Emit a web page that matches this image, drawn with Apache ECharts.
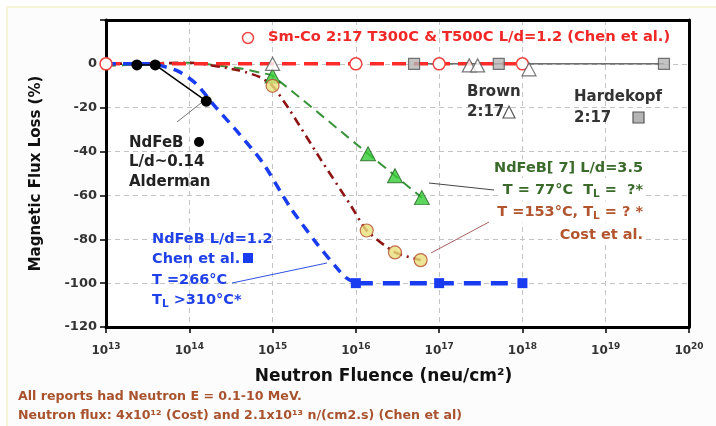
<!DOCTYPE html>
<html><head><meta charset="utf-8">
<script src="https://cdn.jsdelivr.net/npm/echarts@6/dist/echarts.min.js"></script>
<style>html,body{margin:0;padding:0;background:#fff}#c{width:716px;height:426px}</style>
</head><body><div id="c"></div>
<script>
// ---- data ----
const xTickExps = [13, 14, 15, 16, 17, 18, 19, 20];
const yTicks = [-120, -100, -80, -60, -40, -20, 0];

const smcoX = [1e13, 1e16, 1e17, 1e18];
const smcoY = [0, 0, 0, 0];

const hardekopfX = [5e16, 5.2e17, 5e19];
const hardekopfY = [0, 0, 0];

const brownX = [1e15, 2.3e17, 2.9e17, 1.2e18];
const brownY = [0, -0.7, -0.7, -2.5];

const aldermanX = [2.35e13, 3.9e13, 1.6e14];
const aldermanY = [-0.5, -0.5, -17];

const chenCurveX = [1e13, 3.2e13, 7e13, 1.2e14, 2.1e14, 4e14, 7.6e14, 1.6e15, 3.4e15, 5.9e15, 7.6e15, 1e16];
const chenCurveY = [0, 0, -3, -9, -20, -32, -45, -65, -82, -93, -97.5, -100];
const chenX = [1e16, 1e17, 1e18];
const chenY = [-100, -100, -100];

const greenCurveX = [1e13, 1e14, 4e14, 7e14, 1e15, 1.4e16, 2.95e16, 6.2e16];
const greenCurveY = [-1, 0.5, -2, -4, -5.5, -41, -51, -61];
const greenX = [1e15, 1.4e16, 2.95e16, 6.2e16];
const greenY = [-5.5, -41, -51, -61];

const costCurveX = [1e13, 1e14, 4e14, 7e14, 1e15, 1.6e15, 3.7e15, 8.5e15, 1.35e16, 2.95e16, 6e16];
const costCurveY = [0, 0.5, -3, -6, -10, -21, -43, -64, -76, -86, -89.5];
const costX = [1e15, 1.35e16, 2.95e16, 6e16];
const costY = [-10, -76, -86, -89.5];

const zip = (xs, ys) => xs.map((x, i) => [x, ys[i]]);
const FF = '"DejaVu Sans", Verdana, sans-serif';

function txt(text, x, y, color, size, align, extra) {
  return {
    type: 'text', x: x, y: y, z: 100,
    style: Object.assign({
      text: text, fill: color, font: 'bold ' + size + 'px ' + FF,
      textAlign: align || 'left', align: align || 'left',
      textVerticalAlign: 'middle', verticalAlign: 'middle'
    }, extra || {})
  };
}
const subRich = (c, s) => ({ sub: { fontSize: s, fontWeight: 'bold', fontFamily: FF, color: c, padding: [8, 0, 0, 0] } });
const gridSplit = { show: true, lineStyle: { color: '#c4c4c4', type: [5, 4], width: 1 } };

const chart = echarts.init(document.getElementById('c'), null, { renderer: 'canvas' });
chart.setOption({
  backgroundColor: '#ffffff',
  animation: false,
  grid: { left: 106, top: 20, right: 27, bottom: 99, show: true, backgroundColor: '#ffffff', borderWidth: 0 },
  xAxis: [{
    type: 'log', logBase: 10, min: 1e13, max: 1e20,
    name: 'Neutron Fluence (neu/cm²)', nameLocation: 'middle', nameGap: 41,
    nameTextStyle: { fontFamily: FF, fontWeight: 'bold', fontSize: 17, color: '#111', padding: [0, 28, 0, 0] },
    axisLine: { onZero: false, lineStyle: { color: '#000', width: 3 } },
    axisTick: { show: true, length: 6, lineStyle: { color: '#000', width: 1.5 } },
    splitLine: gridSplit,
    axisLabel: {
      margin: 15, color: '#333', fontFamily: FF, fontWeight: 'bold', fontSize: 12,
      formatter: v => { const e = Math.round(Math.log10(v)); return xTickExps.includes(e) ? '10{sup|' + e + '}' : ''; },
      rich: { sup: { fontSize: 9, fontWeight: 'bold', fontFamily: FF, color: '#333', padding: [0, 0, 9, 0] } }
    }
  }, {
    type: 'log', logBase: 10, min: 1e13, max: 1e20, position: 'top',
    axisLine: { onZero: false, lineStyle: { color: '#000', width: 3 } },
    axisTick: { show: false }, axisLabel: { show: false }, splitLine: { show: false }
  }],
  yAxis: [{
    type: 'value', min: -120, max: 20, interval: 20,
    name: 'Magnetic Flux Loss (%)', nameLocation: 'middle', nameGap: 62, nameRotate: 90,
    nameTextStyle: { fontFamily: FF, fontWeight: 'bold', fontSize: 15, color: '#111' },
    axisLine: { show: true, onZero: false, lineStyle: { color: '#000', width: 3 } },
    axisTick: { show: true, length: 6, lineStyle: { color: '#000', width: 1.5 } },
    splitLine: gridSplit,
    axisLabel: {
      margin: 9, color: '#333', fontFamily: FF, fontWeight: 'bold', fontSize: 13,
      formatter: v => yTicks.includes(v) ? String(v) : ''
    }
  }, {
    type: 'value', min: -120, max: 20, interval: 20, position: 'right',
    axisLine: { show: true, onZero: false, lineStyle: { color: '#000', width: 3 } },
    axisTick: { show: false }, axisLabel: { show: false }, splitLine: { show: false }
  }],
  series: [
    { type: 'line', name: 'Hardekopf', data: zip(hardekopfX, hardekopfY), z: 3,
      lineStyle: { color: '#222', width: 1 }, symbol: 'none' },
    { type: 'line', name: 'SmCo', data: zip(smcoX, smcoY), z: 4,
      lineStyle: { color: '#ff2a2a', width: 3.5, type: [14, 8] },
      symbol: 'circle', symbolSize: 12, itemStyle: { color: '#ffffff', borderColor: '#ee4444', borderWidth: 1.5 } },
    { type: 'scatter', name: 'HardekopfPts', data: zip(hardekopfX, hardekopfY), z: 6,
      symbol: 'rect', symbolSize: 11, itemStyle: { color: '#b4b4b4', borderColor: '#555', borderWidth: 1.2 } },
    { type: 'scatter', name: 'Brown', data: zip(brownX, brownY), z: 7,
      symbol: 'triangle', symbolSize: [14, 13], itemStyle: { color: '#ffffff', borderColor: '#555', borderWidth: 1.2 } },
    { type: 'line', name: 'ChenCurve', data: zip(chenCurveX, chenCurveY), z: 4, smooth: 0.25,
      lineStyle: { color: '#1a3cf0', width: 3.5, type: [10, 7] }, symbol: 'none' },
    { type: 'line', name: 'Chen', data: zip(chenX, chenY), z: 5,
      lineStyle: { color: '#1a3cf0', width: 4.5, type: [17, 10] },
      symbol: 'rect', symbolSize: 10, itemStyle: { color: '#1a3cf0' } },
    { type: 'line', name: 'GreenCurve', data: zip(greenCurveX, greenCurveY), z: 3, smooth: 0.2,
      lineStyle: { color: '#389438', width: 2, type: [10, 6] }, symbol: 'none' },
    { type: 'scatter', name: 'Green', data: zip(greenX, greenY), z: 6,
      symbol: 'triangle', symbolSize: [15, 14], itemStyle: { color: '#33cc33', borderColor: '#1f5f1f', borderWidth: 1 } },
    { type: 'line', name: 'CostCurve', data: zip(costCurveX, costCurveY), z: 3, smooth: 0.2,
      lineStyle: { color: '#8e1414', width: 2.6, type: [9, 5, 2, 5] }, symbol: 'none' },
    { type: 'scatter', name: 'Cost', data: zip(costX, costY), z: 6,
      symbol: 'circle', symbolSize: 13, itemStyle: { color: '#e8e07c', borderColor: '#b44a2a', borderWidth: 1.2 } },
    { type: 'line', name: 'Alderman', data: zip(aldermanX, aldermanY), z: 8,
      lineStyle: { color: '#000', width: 1.5 }, symbol: 'circle', symbolSize: 11, itemStyle: { color: '#000' } }
  ],
  graphic: [
    { type: 'rect', z: -10, silent: true, shape: { x: 7, y: 7, width: 720, height: 430 },
      style: { fill: '#fcfcfc', stroke: '#f6f1cc', lineWidth: 1.5 } },
    // Sm-Co title
    { type: 'circle', z: 100, shape: { cx: 248, cy: 38, r: 5.5 }, style: { fill: '#fff', stroke: '#ee4444', lineWidth: 1.5 } },
    txt('Sm-Co 2:17 T300C & T500C L/d=1.2 (Chen et al.)', 268, 37, '#f02828', 14.7),
    // Brown
    txt('Brown', 467, 92, '#333', 15),
    txt('2:17', 467, 112, '#333', 15),
    { type: 'polygon', z: 100, shape: { points: [[503, 118], [515, 118], [509, 106]] }, style: { fill: '#fff', stroke: '#555', lineWidth: 1.2 } },
    // Hardekopf
    txt('Hardekopf', 574, 97, '#333', 15),
    txt('2:17', 574, 118, '#333', 15),
    { type: 'rect', z: 100, shape: { x: 633, y: 112, width: 11, height: 11 }, style: { fill: '#b4b4b4', stroke: '#555', lineWidth: 1.2 } },
    // Alderman
    txt('NdFeB', 129, 143, '#222', 15),
    { type: 'circle', z: 100, shape: { cx: 199, cy: 142, r: 5 }, style: { fill: '#000' } },
    txt('L/d~0.14', 129, 162, '#222', 15),
    txt('Alderman', 129, 182, '#222', 15),
    { type: 'line', z: 100, shape: { x1: 177, y1: 122, x2: 201, y2: 103 }, style: { stroke: '#777', lineWidth: 1 } },
    // Chen NdFeB blue
    txt('NdFeB L/d=1.2', 152, 239, '#2040e8', 14.5),
    txt('Chen et al.', 152, 259, '#2040e8', 14.5),
    { type: 'rect', z: 100, shape: { x: 243, y: 253, width: 10, height: 10 }, style: { fill: '#1a3cf0' } },
    txt('T =266°C', 152, 280, '#2040e8', 14.5),
    txt('T{sub|L} >310°C*', 152, 300, '#2040e8', 14.5, 'left', { rich: subRich('#2040e8', 10.5) }),
    { type: 'line', z: 100, shape: { x1: 232, y1: 283, x2: 327, y2: 263 }, style: { stroke: '#3050e0', lineWidth: 1 } },
    // Green
    txt('NdFeB[ 7] L/d=3.5', 645, 168, '#3b6b2b', 14.5, 'right', { backgroundColor: '#fff', padding: [1, 2] }),
    txt('T = 77°C  T{sub|L} =  ?*', 645, 190, '#3b6b2b', 14.5, 'right', { backgroundColor: '#fff', padding: [1, 2], rich: subRich('#3b6b2b', 10.5) }),
    { type: 'line', z: 100, shape: { x1: 429, y1: 183, x2: 494, y2: 190 }, style: { stroke: '#444', lineWidth: 1 } },
    // Cost
    txt('T =153°C, T{sub|L} = ? *', 645, 212, '#b2552e', 14.5, 'right', { backgroundColor: '#fff', padding: [1, 2], rich: subRich('#b2552e', 10.5) }),
    txt('Cost et al.', 645, 235, '#b2552e', 14.5, 'right', { backgroundColor: '#fff', padding: [1, 2] }),
    { type: 'line', z: 100, shape: { x1: 431, y1: 253, x2: 489, y2: 222 }, style: { stroke: '#a86060', lineWidth: 1 } },
    // footer
    txt('All reports had Neutron E = 0.1-10 MeV.', 18, 397, '#a8522e', 12.6),
    txt('Neutron flux: 4x10¹² (Cost) and 2.1x10¹³ n/(cm2.s) (Chen et al)', 18, 416, '#a8522e', 12.6)
  ]
});
</script></body></html>
